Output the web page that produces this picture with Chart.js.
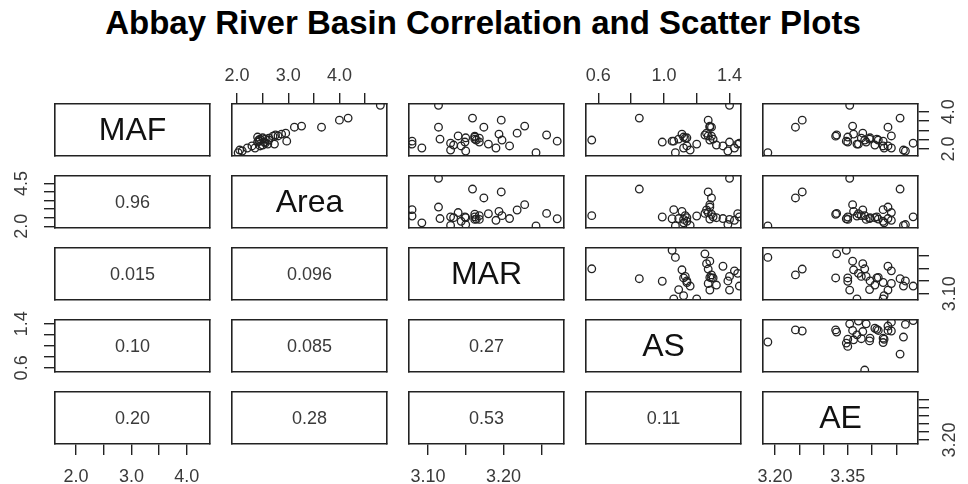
<!DOCTYPE html>
<html><head><meta charset="utf-8">
<script src="https://cdn.jsdelivr.net/npm/chart.js@4/dist/chart.umd.min.js"></script>
<style>
html,body{margin:0;padding:0;background:#fff;}
#wrap{position:relative;width:968px;height:484px;overflow:hidden;background:#fff;}
#title{position:absolute;left:0;top:4px;width:966px;text-align:center;font:bold 33px "Liberation Sans",Arial,sans-serif;color:#000;white-space:nowrap;}
canvas{position:absolute;}
</style></head><body>
<div id="wrap"><div id="title">Abbay River Basin Correlation and Scatter Plots</div></div>
<script>
// ---------- data ----------
const varNames = ['MAF', 'Area', 'MAR', 'AS', 'AE'];
const MAF  = [4.35,3.66,3.55,3.23,3.17,3.17,2.85,2.80,2.75,2.69,2.64,2.53,2.53,2.48,2.48,2.42,2.42,2.37,2.37,2.31,2.26,2.26,2.21,2.16,2.16,2.05,2.05,1.94,1.89,1.80,2.58,2.60,2.70];
const Area = [4.80,4.17,4.00,3.26,3.65,3.12,2.95,2.87,2.75,2.70,2.40,2.45,2.55,2.62,2.42,2.97,2.44,2.54,2.40,2.55,2.60,2.73,2.50,2.29,2.45,2.20,2.35,2.05,2.10,2.02,2.62,2.50,2.80];
const MAR  = [3.114,3.159,3.197,3.228,3.174,3.114,3.218,3.194,3.257,3.162,3.162,3.116,3.162,3.198,3.164,3.079,3.271,3.149,3.168,3.130,3.079,3.180,3.134,3.144,3.208,3.092,3.190,3.130,3.150,3.243,3.168,3.150,3.140];
const AS   = [1.40,0.85,1.27,1.28,1.29,1.28,1.26,1.11,1.25,1.29,1.12,1.09,1.30,0.56,1.28,1.06,1.05,0.99,1.40,1.46,1.20,1.45,1.32,1.14,1.36,1.12,1.43,1.16,1.39,1.07,1.13,1.14,1.27];
const AE   = [3.354,3.458,3.256,3.360,3.242,3.433,3.381,3.362,3.327,3.325,3.350,3.395,3.410,3.385,3.413,3.423,3.347,3.350,3.388,3.485,3.369,3.372,3.406,3.423,3.433,3.425,3.440,3.465,3.469,3.185,3.378,3.396,3.440];

// axis ranges per variable
const axisMin = [1.62, 1.90, 3.075, 0.525, 3.175];
const axisMax = [4.42, 4.93, 3.280, 1.470, 3.495];

// tick values and labels (horizontal side / vertical side)
const mafTicks  = [2.0, 2.5, 3.0, 3.5, 4.0];
const mafLabX   = ['2.0', '', '3.0', '', '4.0'];
const mafLabY   = ['2.0', '', '', '', '4.0'];
const areaTicks = [2.0, 2.5, 3.0, 3.5, 4.0, 4.5];
const areaLabX  = ['2.0', '', '3.0', '', '4.0', ''];
const areaLabY  = ['2.0', '', '', '', '', '4.5'];
const marTicks  = [3.10, 3.15, 3.20, 3.25];
const marLabX   = ['3.10', '', '3.20', ''];
const marLabY   = ['3.10', '', '', ''];
const asTicks   = [0.6, 0.8, 1.0, 1.2, 1.4];
const asLabX    = ['0.6', '', '1.0', '', '1.4'];
const asLabY    = ['0.6', '', '', '', '1.4'];
const aeTicks   = [3.20, 3.25, 3.30, 3.35, 3.40, 3.45];
const aeLabX    = ['3.20', '', '', '3.35', '', ''];
const aeLabY    = ['3.20', '', '', '', '', ''];

// correlation labels for the lower panels: [row, col, text]
const corrRows = [1, 2, 2, 3, 3, 3, 4, 4, 4, 4];
const corrCols = [0, 0, 1, 0, 1, 2, 0, 1, 2, 3];
const corrText = ['0.96', '0.015', '0.096', '0.10', '0.085', '0.27', '0.20', '0.28', '0.53', '0.11'];

// ---------- layout ----------
const vars = [MAF, Area, MAR, AS, AE];
const tickVals = [mafTicks, areaTicks, marTicks, asTicks, aeTicks];
const labX = [mafLabX, areaLabX, marLabX, asLabX, aeLabX];
const labY = [mafLabY, areaLabY, marLabY, asLabY, aeLabY];
const colX = [55, 232, 409, 586, 763];
const rowY = [104, 176, 248, 320, 392];
const PW = 155, PH = 52, M = 60;
const FONT = '"Liberation Sans", Arial, sans-serif';
const padYAxis = [7.5, 9.5, 3.5, 9.5, 3.5];

const textPlugin = {
  id: 'panelText',
  afterDraw(chart, args, opts) {
    if (!opts || !opts.text) return;
    const a = chart.chartArea, ctx = chart.ctx;
    ctx.save();
    ctx.font = opts.font;
    ctx.fillStyle = opts.color;
    ctx.textAlign = 'center';
    ctx.textBaseline = 'middle';
    ctx.fillText(opts.text, (a.left + a.right) / 2, (a.top + a.bottom) / 2 + 1);
    ctx.restore();
  }
};

function makeScale(isX, position, v, show, labels, pad) {
  return {
    type: 'linear', axis: isX ? 'x' : 'y', position: position,
    min: axisMin[v], max: axisMax[v], display: true,
    afterBuildTicks: s => { s.ticks = tickVals[v].map(t => ({ value: t })); },
    afterFit: s => { if (isX) s.height = M; else s.width = M; },
    grid: { display: show, drawOnChartArea: false, drawTicks: show, tickLength: 11, lineWidth: 1.4, color: '#222', tickColor: '#222' },
    border: { display: true, color: '#222', width: 1.6 },
    ticks: {
      display: show, autoSkip: false, includeBounds: false,
      minRotation: isX ? 0 : 90, maxRotation: isX ? 0 : 90,
      padding: pad, crossAlign: isX ? 'near' : 'center',
      color: '#3a3a3a', font: { family: FONT, size: 18 },
      callback: (val, i) => labels[i]
    }
  };
}

const wrap = document.getElementById('wrap');
for (let i = 0; i < 5; i++) {
  for (let j = 0; j < 5; j++) {
    const cv = document.createElement('canvas');
    const w = PW + 2 * M, h = PH + 2 * M;
    cv.width = w; cv.height = h;
    cv.style.left = (colX[j] - M) + 'px';
    cv.style.top = (rowY[i] - M) + 'px';
    cv.style.width = w + 'px'; cv.style.height = h + 'px';
    wrap.appendChild(cv);

    const showTop = (i === 0 && j % 2 === 1);
    const showBottom = (i === 4 && j % 2 === 0);
    const showLeft = (j === 0 && i % 2 === 1);
    const showRight = (j === 4 && i % 2 === 0);

    let datasets = [];
    let txt = null;
    if (j > i) {
      datasets = [{
        data: vars[j].map((xv, k) => ({ x: xv, y: vars[i][k] })),
        showLine: false, pointStyle: 'circle', pointRadius: 3.8,
        pointBorderWidth: 1.3, pointBorderColor: '#222', pointBackgroundColor: 'rgba(0,0,0,0)'
      }];
    } else if (i === j) {
      txt = { text: varNames[i], font: '32px ' + FONT, color: '#111' };
    } else {
      const idx = corrRows.findIndex((r, n) => r === i && corrCols[n] === j);
      txt = { text: corrText[idx], font: '18px ' + FONT, color: '#3a3a3a' };
    }

    new Chart(cv, {
      type: 'scatter',
      data: { datasets: datasets },
      plugins: [textPlugin],
      options: {
        responsive: false, animation: false, devicePixelRatio: 1,
        layout: { padding: 0 },
        plugins: { legend: { display: false }, tooltip: { enabled: false }, title: { display: false }, panelText: txt || {} },
        scales: {
          x: makeScale(true, 'bottom', j, showBottom, labX[j], 11),
          x2: makeScale(true, 'top', j, showTop, labX[j], 6),
          y: makeScale(false, 'left', i, showLeft, labY[i], padYAxis[i]),
          y2: makeScale(false, 'right', i, showRight, labY[i], padYAxis[i])
        }
      }
    });
  }
}
</script>
</body></html>
